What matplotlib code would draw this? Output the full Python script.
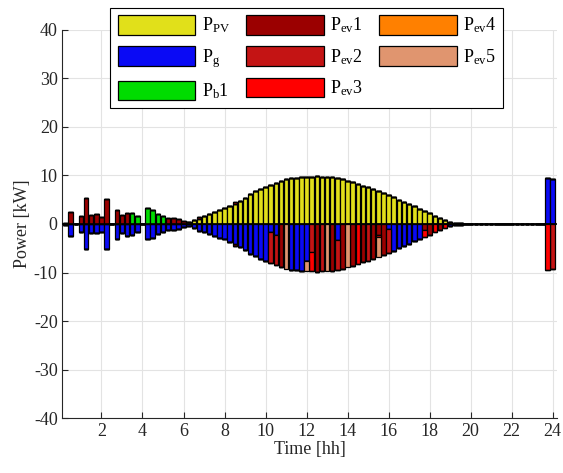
import numpy as np
import matplotlib
matplotlib.use('Agg')
import matplotlib.pyplot as plt

plt.rcParams['font.family'] = 'Liberation Serif'
plt.rcParams['mathtext.fontset'] = 'custom'
plt.rcParams['mathtext.rm'] = 'Liberation Serif'
plt.rcParams['mathtext.it'] = 'Liberation Serif:italic'
plt.rcParams['axes.unicode_minus'] = False

# time axis, 15 min steps
time = np.arange(1, 97) * 0.25

# power per interval [kW], each line = 2 hours (8 values)
p_pv = [0, 0, 0, 0, 0, 0, 0, 0,
        0, 0, 0, 0, 0, 0, 0, 0,
        0, 0, 0, 0, 0, 0, 0, 0,
        0.5, 0.8, 1.1, 1.6, 2.0, 2.4, 2.8, 3.2,
        3.7, 4.2, 4.8, 5.4, 6.1, 6.7, 7.2, 7.7,
        8.1, 8.5, 8.8, 9.2, 9.4, 9.5, 9.6, 9.7,
        9.75, 9.8, 9.75, 9.7, 9.6, 9.4, 9.2, 8.9,
        8.6, 8.3, 7.9, 7.6, 7.2, 6.8, 6.4, 6.0,
        5.5, 5.0, 4.5, 4.1, 3.6, 3.1, 2.6, 2.2,
        1.7, 1.2, 0.8, 0.5, 0.3, 0.15, 0.08, 0.03,
        0, 0, 0, 0, 0, 0, 0, 0,
        0, 0, 0, 0, 0, 0, 0, 0]

p_g = [-0.3, -2.5, 0, -1.6, -5.2, -1.8, -1.8, -1.6,
       -5.2, 0, -3.0, -1.8, -2.4, -2.3, -1.7, 0,
       -3.2, -2.8, -2.0, -1.7, -1.3, -1.2, -1.0, -0.7,
       -0.5, -0.8, -1.4, -1.6, -2.0, -2.4, -2.8, -3.2,
       -3.7, -4.2, -4.8, -5.4, -6.1, -6.7, -7.2, -7.7,
       -1.7, -2.2, 0, 0, -9.4, -9.5, -9.6, -7.7,
       0, 0, 0, 0, 0, -3.4, 0, 0,
       0, 0, 0, 0, 0, 0, 0, -1.0,
       -5.5, -5.0, -4.5, -4.1, -3.6, -3.1, 0, 0,
       0, 0, 0, -0.5, -0.3, -0.15, -0.08, -0.03,
       0, 0, 0, 0, 0, 0, 0, 0,
       0, 0, 0, 0, 0, 0, 9.5, 9.3]

p_b1 = [0, 0, 0, 0, 0, 0, 0, 0,
        0, 0, 0, 0, 0, 2.3, 1.6, 0,
        3.2, 2.9, 2.1, 1.6, 0, 0, 0, 0] + [0] * 72

p_ev1 = [0.3, 2.5, 0, 1.6, 5.3, 1.9, 2.1, 1.5,
         5.1, 0, 2.9, 1.8, 2.2, 0, 0, 0,
         0, 0, 0, 0, 1.2, 1.2, 1.0, 0.7,
         0, 0, 0.3, 0, 0, 0, 0, 0,
         0, -0.3, 0, 0, 0, 0, 0, 0,
         0, 0, -8.8, 0, 0, 0, 0, 0,
         0, -9.8, 0, 0, -9.6, 0, -9.2, 0,
         -8.6, 0, -7.9, 0, -7.2, -2.2, -6.4, 0,
         0, 0, 0, 0, 0, 0, -1.3, -2.2,
         0, -1.2, 0, 0, 0, 0, 0, 0,
         0, 0, 0, 0, 0, 0, 0, 0,
         0, 0, 0, 0, 0, 0, 0, 0]

p_ev2 = [0] * 32 + \
        [0, 0.3, 0, 0, 0, 0, 0, 0,
         -6.4, -6.3, 0, 0, 0, 0, 0, 0,
         -5.8, 0, -9.75, 0, 0, -6.0, 0, 0,
         0, 0, 0, -7.6, 0, 0, 0, -5.0] + [0] * 31 + [-9.3]

p_ev3 = [0] * 48 + \
        [-3.95, 0, 0, 0, 0, 0, 0, 0,
         0, -8.3, 0, 0, 0, -0.5, 0, 0,
         0, 0, 0, 0, 0, 0, -1.3, 0,
         -1.7, 0, -0.8, 0, 0, 0, 0, 0] + [0] * 14 + [-9.5, 0]

p_ev4 = [0] * 96

p_ev5 = [0] * 40 + \
        [0, 0, 0, -9.2, 0, 0, 0, -2.0,
         0, 0, 0, -9.7, 0, 0, 0, -8.9,
         0, 0, 0, 0, 0, -4.1, 0, 0] + [0] * 32

labels = [r'P$_{\mathrm{PV}}$', r'P$_{\mathrm{g}}$', r'P$_{\mathrm{b}}$1',
          r'P$_{\mathrm{ev}}$1', r'P$_{\mathrm{ev}}$2', r'P$_{\mathrm{ev}}$3',
          r'P$_{\mathrm{ev}}$4', r'P$_{\mathrm{ev}}$5']
colors = ['#E1E01A', '#0A0AF5', '#00DC00', '#9B0000', '#C41414', '#FF0000',
          '#FF8000', '#E0956F']
series = [p_pv, p_g, p_b1, p_ev1, p_ev2, p_ev3, p_ev4, p_ev5]

fig = plt.figure(figsize=(5.63, 4.73), dpi=100)
ax = fig.add_axes([0.111, 0.116, 0.878, 0.821])

# stacked bars, positive parts up and negative parts down
pos_bottom = np.zeros(96)
neg_bottom = np.zeros(96)
for vals, col, lab in zip(series, colors, labels):
    v = np.array(vals, dtype=float)
    pos = np.where(v > 0, v, 0)
    neg = np.where(v < 0, v, 0)
    ax.bar(time, pos, width=0.22, bottom=pos_bottom, color=col,
           edgecolor='black', linewidth=0.9, label=lab, zorder=2)
    ax.bar(time, neg, width=0.22, bottom=neg_bottom, color=col,
           edgecolor='black', linewidth=0.9, zorder=2)
    pos_bottom += pos
    neg_bottom += neg

ax.axhline(0, color='black', linewidth=1.2, zorder=3)

ax.set_xlim(0.1, 24.2)
ax.set_ylim(-40, 40)
ax.set_xticks(np.arange(2, 25, 2))
ax.set_yticks(np.arange(-40, 41, 10))
ax.grid(True, color='#E3E3E3', linewidth=0.8)
ax.set_axisbelow(True)
for s in ['top', 'right']:
    ax.spines[s].set_visible(False)
for s in ['left', 'bottom']:
    ax.spines[s].set_color('#262626')
ax.tick_params(direction='in', length=4, labelsize=13, colors='#262626')
ax.set_xlabel('Time [hh]', fontsize=13, color='#262626', labelpad=1)
ax.set_ylabel('Power [kW]', fontsize=13, color='#262626', labelpad=2)

leg = fig.legend(loc='upper center', bbox_to_anchor=(0.545, 1.003), ncol=3,
                 fontsize=13, handlelength=4.3, handleheight=1.3,
                 handletextpad=0.35, columnspacing=0.9, labelspacing=0.6,
                 borderpad=0.4, fancybox=False, framealpha=1)
leg.get_frame().set_edgecolor('black')
leg.get_frame().set_linewidth(0.8)

fig.savefig('out.png', dpi=100)
